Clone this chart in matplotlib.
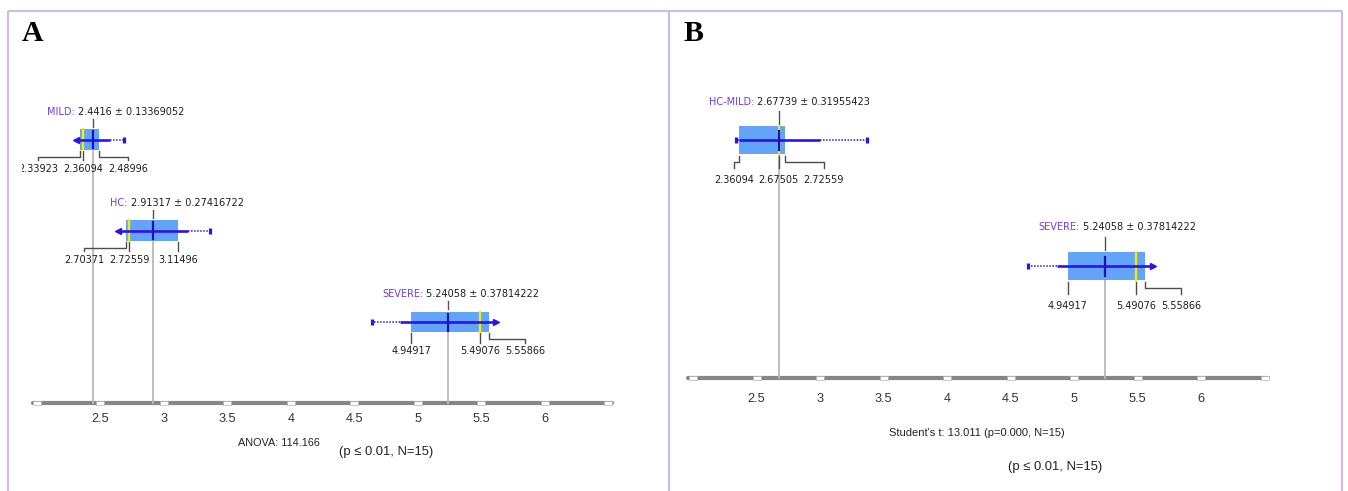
import matplotlib
matplotlib.use("Agg")
import matplotlib.pyplot as plt
from matplotlib.patches import Rectangle

# ---- data ----
a_groups = ["MILD", "HC", "SEVERE"]
a_mean = [2.4416, 2.91317, 5.24058]
a_sd = [0.13369052, 0.27416722, 0.37814222]
a_q1 = [2.33923, 2.70371, 4.94917]
a_median = [2.36094, 2.72559, 5.49076]
a_q3 = [2.48996, 3.11496, 5.55866]
a_min = [2.335, 2.68, 4.64]
a_max = [2.686, 3.366, 5.59]
a_stat = "ANOVA: 114.166"

b_groups = ["HC-MILD", "SEVERE"]
b_mean = [2.67739, 5.24058]
b_sd = [0.31955423, 0.37814222]
b_q1 = [2.36094, 4.94917]
b_median = [2.67505, 5.49076]
b_q3 = [2.72559, 5.55866]
b_min = [2.335, 4.64]
b_max = [3.366, 5.59]
b_stat = "Student's t: 13.011 (p=0.000, N=15)"

sig_text = "(p \u2264 0.01, N=15)"
tick_values = [2.5, 3, 3.5, 4, 4.5, 5, 5.5, 6]
marker_values = [2.0, 2.5, 3, 3.5, 4, 4.5, 5, 5.5, 6, 6.5]

# ---- colours / fonts ----
BOX = "#63a3f8"
YELLOW = "#f2ee00"
BLUE = "#2c12f0"
DARKBLUE = "#1a14b8"
PURPLE = "#6a3cf2"
FRAME = "#cbbfdd"
VAL_FONT = ["DejaVu Sans"]
SANS = ["Liberation Sans", "DejaVu Sans"]

W, H = 1348, 491
fig = plt.figure(figsize=(W / 100, H / 100), dpi=100)

# background layer in pixel units: frames and panel letters
bg = fig.add_axes([0, 0, 1, 1])
bg.set_xlim(0, W)
bg.set_ylim(H, 0)
bg.axis("off")
frame_kw = dict(color=FRAME, lw=1.6, solid_capstyle="butt")
bg.plot([8, 1342], [11, 11], **frame_kw)
for fx in (8, 669, 1342):
    bg.plot([fx, fx], [11, H], **frame_kw)
bg.text(22, 20, "A", fontsize=21.5, fontweight="bold", family="Liberation Serif", va="top")
bg.text(683, 20, "B", fontsize=21.5, fontweight="bold", family="Liberation Serif", va="top")

GAP = 0.354  # spacing between quartile labels, in axis units


def draw_axis(ax, y, label_dy, lo, hi):
    ax.plot([lo, hi], [y, y], color="#868686", lw=3.0, solid_capstyle="round", zorder=1)
    rect = [(-1, -0.5), (1, -0.5), (1, 0.5), (-1, 0.5), (-1, -0.5)]
    ax.plot(marker_values, [y] * len(marker_values), ls="none", marker=rect, ms=6,
            mfc="white", mec="#a8a8a8", mew=0.4, zorder=2)
    for t in tick_values:
        ax.text(t, y + label_dy, f"{t:g}", ha="center", va="center", fontsize=9.2,
                family=SANS, color="#333333")


def draw_group(ax, name, mean, sd, q1, med, q3, lo, hi, y, lay):
    bh = lay["box_h"]
    top, bot = y - bh / 2, y + bh / 2
    ax.plot([mean, mean], [y, lay["axis_y"]], color="#b9b9b9", lw=1.3, zorder=1)
    ax.plot([mean, mean], [top - lay["tick_up"], top - 2.5], color="#555555", lw=1.0)
    ax.add_patch(Rectangle((q1, top), q3 - q1, bh, fc=BOX, ec="none", zorder=2))
    ax.plot([med, med], [top, bot], color=YELLOW, lw=1.7, zorder=3)
    ax.plot([mean - sd, mean + sd], [y, y], color=BLUE, lw=1.9, zorder=4,
            solid_capstyle="butt")
    for end, side in ((lo, -1), (hi, 1)):
        edge = mean + side * sd
        if (end - edge) * side > 0:
            ax.plot([edge, end], [y, y], ls=(0, (1, 1)), color=BLUE, lw=1.1, zorder=4)
            ax.plot([end], [y], marker="|", ms=5, mew=2.3, color=BLUE, zorder=4)
        else:
            ax.plot([edge], [y], marker="<" if side < 0 else ">", ms=4.5, color=BLUE,
                    zorder=4)
    ax.plot([mean, mean], [y - lay["cross"], y + lay["cross"]], color=DARKBLUE, lw=1.6,
            zorder=5)

    # title: value right-aligned, prefix in purple right before it
    val = ax.annotate(f"{mean} \u00b1 {sd}", xy=(mean, top - lay["title_up"]),
                      xytext=(91, 0), textcoords="offset pixels", ha="right",
                      va="center", fontsize=7, family=VAL_FONT, color="#1e1e1e")
    ax.annotate(name + ":", xy=(0, 0.5), xycoords=val, xytext=(-3, 0),
                textcoords="offset pixels", ha="right", va="center", fontsize=7,
                family=VAL_FONT, color=PURPLE)

    # quartile labels with leader lines
    lx = [min(q1, med - GAP), med, max(q3, med + GAP)]
    for v, l in zip([q1, med, q3], lx):
        y0, y1, y2 = bot + lay["lead"][0], bot + lay["lead"][1], bot + lay["lead"][2]
        if abs(l - v) < 0.01:
            ax.plot([v, v], [y0, y2], color="#4d4d4d", lw=1.0)
        else:
            ax.plot([v, v, l, l], [y0, y1, y1, y2], color="#4d4d4d", lw=1.0)
        t = ax.text(l, bot + lay["label_dy"], f"{v:.5f}", ha="center", va="center",
                    fontsize=7, family=VAL_FONT, color="#1e1e1e", clip_on=True)
        t.set_clip_box(ax.bbox)


def panel(x0, x1, x_at_25, groups, means, sds, q1s, meds, q3s, mins, maxs, rows, lay):
    ax = fig.add_axes([x0 / W, 0, (x1 - x0) / W, 1])
    ax.set_xlim(2.5 - (x_at_25 - x0) / 127, 2.5 + (x1 - x_at_25) / 127)
    ax.set_ylim(H, 0)
    ax.axis("off")
    ax.patch.set_alpha(0)
    draw_axis(ax, lay["axis_y"], lay["tick_dy"], lay["range"][0], lay["range"][1])
    for i, g in enumerate(groups):
        draw_group(ax, g, means[i], sds[i], q1s[i], meds[i], q3s[i], mins[i], maxs[i],
                   rows[i], lay)
    return ax


lay_a = dict(axis_y=403, tick_dy=16, range=(1.97, 6.53), box_h=20.5, tick_up=10.5,
             title_up=17.5, cross=8.5, lead=(1, 7, 10.5), label_dy=19)
lay_b = dict(axis_y=378, tick_dy=21, range=(1.96, 6.53), box_h=28, tick_up=15.5,
             title_up=24.5, cross=9.5, lead=(2, 8, 14), label_dy=26)

panel(22, 668, 100.4, a_groups, a_mean, a_sd, a_q1, a_median, a_q3, a_min, a_max,
      [139.5, 230.5, 322], lay_a)
panel(670, 1341, 756.6, b_groups, b_mean, b_sd, b_q1, b_median, b_q3, b_min, b_max,
      [140, 266], lay_b)

# statistics under the axes
bg.text(279, 443, a_stat, ha="center", va="center", fontsize=7.8, family=SANS, color="#222222")
bg.text(386, 452, sig_text, ha="center", va="center", fontsize=9.4, family=SANS, color="#222222")
bg.text(977, 433, b_stat, ha="center", va="center", fontsize=8.0, family=SANS, color="#222222")
bg.text(1055, 467, sig_text, ha="center", va="center", fontsize=9.4, family=SANS, color="#222222")

fig.savefig("out.png", dpi=100, facecolor="white")
